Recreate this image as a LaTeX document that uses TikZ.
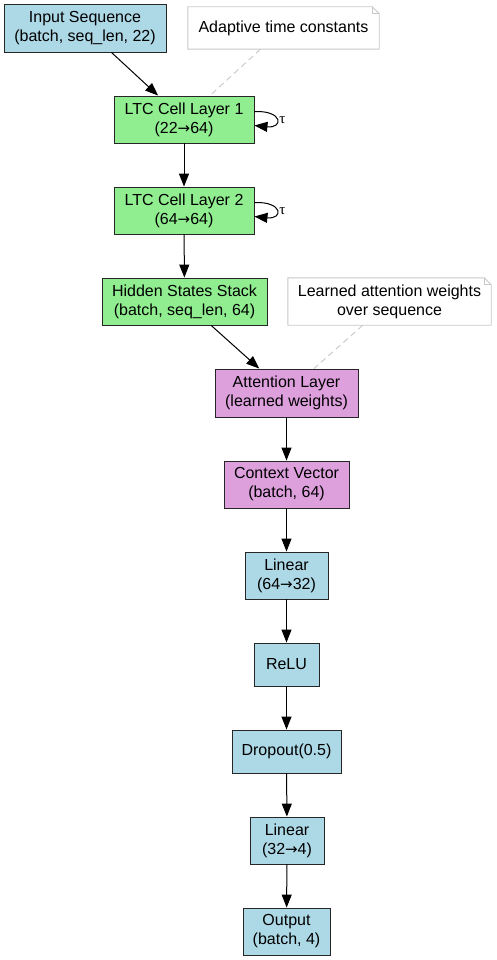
\documentclass[tikz,border=0pt]{standalone}
\usepackage{fontspec}
\setmainfont{Liberation Sans}
\newfontfamily\arrowfont{DejaVu Sans}
\newfontfamily\taufont{Liberation Serif}
\newcommand{\myarrow}{{\arrowfont\fontsize{15}{19}\selectfont →}}
\usetikzlibrary{arrows.meta}
\definecolor{lblue}{HTML}{ADD8E6}
\definecolor{lgreen}{HTML}{90EE90}
\definecolor{lplum}{HTML}{DDA0DD}
\definecolor{notegray}{HTML}{C8C8C8}
\begin{document}
\begin{tikzpicture}[x=1pt,y=-1pt,
  box/.style={draw=black!85,line width=0.9pt,inner sep=0pt,align=center,
    font=\fontsize{16}{19}\selectfont},
  bluebox/.style={box,fill=lblue},
  greenbox/.style={box,fill=lgreen},
  plumbox/.style={box,fill=lplum},
  notebox/.style={inner sep=0pt,align=center,fill=white,
    font=\fontsize{16}{19}\selectfont},
  arr/.style={-{Triangle[length=13pt,width=10pt]},line width=1pt,black},
  noteline/.style={notegray,dash pattern=on 6pt off 4pt,line width=0.9pt},
  noteedge/.style={notegray,line width=0.9pt},
  taulabel/.style={font=\taufont\fontsize{15}{15}\selectfont,inner sep=0pt}
]
\useasboundingbox (0,0) rectangle (496,960);
\fill[white] (0,0) rectangle (496,960);

\node[bluebox,minimum width=162pt,minimum height=48pt] (in) at (85,28) {Input Sequence\\(batch, seq\_len, 22)};
\node[notebox,minimum width=191pt,minimum height=42pt] (n1) at (283.5,28) {Adaptive time constants};
\node[greenbox,minimum width=140pt,minimum height=47pt] (l1) at (184,119.5) {LTC Cell Layer 1\\(22\myarrow64)};
\node[greenbox,minimum width=140pt,minimum height=47pt] (l2) at (184,210.5) {LTC Cell Layer 2\\(64\myarrow64)};
\node[greenbox,minimum width=165pt,minimum height=47pt] (hs) at (184.5,301.5) {Hidden States Stack\\(batch, seq\_len, 64)};
\node[notebox,minimum width=203pt,minimum height=47pt] (n2) at (389.5,301.5) {Learned attention weights\\over sequence};
\node[plumbox,minimum width=143pt,minimum height=48pt] (at) at (286.5,393) {Attention Layer\\(learned weights)};
\node[plumbox,minimum width=125pt,minimum height=47pt] (cv) at (286.5,484.5) {Context Vector\\(batch, 64)};
\node[bluebox,minimum width=83pt,minimum height=47pt] (li1) at (286.5,575.5) {Linear\\(64\myarrow32)};
\node[bluebox,minimum width=65pt,minimum height=43pt] (re) at (286.5,664.5) {ReLU};
\node[bluebox,minimum width=109pt,minimum height=43pt] (dr) at (286.5,751.5) {Dropout(0.5)};
\node[bluebox,minimum width=74pt,minimum height=47pt] (li2) at (287,840.5) {Linear\\(32\myarrow4)};
\node[bluebox,minimum width=87pt,minimum height=47pt] (ou) at (286.5,931.5) {Output\\(batch, 4)};

% note outlines with folded corner
\foreach \n in {n1,n2}{
  \draw[noteedge] (\n.south west) -- (\n.north west) -- ([xshift=-7pt]\n.north east)
    -- ([yshift=-7pt]\n.north east) -- (\n.south east) -- cycle;
  \draw[noteedge] ([xshift=-7pt]\n.north east) -- ([xshift=-7pt,yshift=-7pt]\n.north east)
    -- ([yshift=-7pt]\n.north east);
}

% note connectors
\draw[noteline] (n1) -- (l1);
\draw[noteline] (n2) -- (at);

% main flow
\draw[arr] (in) -- (l1);
\draw[arr] (l1) -- (l2);
\draw[arr] (l2) -- (hs);
\draw[arr] (hs) -- (at);
\draw[arr] (at) -- (cv);
\draw[arr] (cv) -- (li1);
\draw[arr] (li1) -- (re);
\draw[arr] (re) -- (dr);
\draw[arr] (dr) -- (li2);
\draw[arr] (li2) -- (ou);

% self loops
\foreach \n in {l1,l2}{
  \draw[arr] ([yshift=8pt]\n.east) .. controls +(29pt,1pt) and +(29pt,-3pt) .. ([yshift=-6pt]\n.east);
  \node[taulabel] at ([xshift=28pt,yshift=-0.5pt]\n.east) {τ};
}
\end{tikzpicture}
\end{document}
